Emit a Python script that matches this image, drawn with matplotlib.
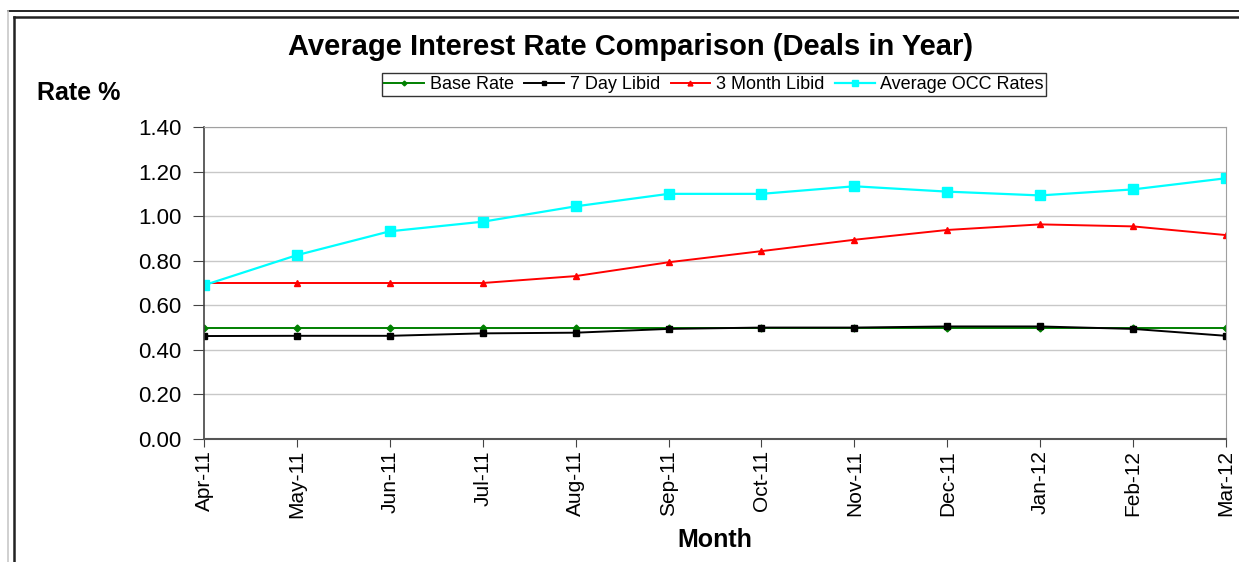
import matplotlib
matplotlib.use("Agg")
import matplotlib.pyplot as plt
from matplotlib.lines import Line2D

plt.rcParams["font.family"] = ["Liberation Sans", "DejaVu Sans"]

months = ["Apr-11", "May-11", "Jun-11", "Jul-11", "Aug-11", "Sep-11",
          "Oct-11", "Nov-11", "Dec-11", "Jan-12", "Feb-12", "Mar-12"]
base_rate = [0.50, 0.50, 0.50, 0.50, 0.50, 0.50, 0.50, 0.50, 0.50, 0.50, 0.50, 0.50]
libid_7day = [0.462, 0.463, 0.463, 0.474, 0.477, 0.494, 0.500, 0.500, 0.505, 0.505, 0.494, 0.463]
libid_3month = [0.70, 0.70, 0.70, 0.70, 0.731, 0.793, 0.843, 0.894, 0.938, 0.963, 0.954, 0.915]
occ_rates = [0.69, 0.825, 0.932, 0.975, 1.044, 1.10, 1.10, 1.134, 1.11, 1.093, 1.12, 1.17]
y_ticks = [0.0, 0.2, 0.4, 0.6, 0.8, 1.0, 1.2, 1.4]

W, H = 1239, 562
fig = plt.figure(figsize=(W / 100, H / 100), dpi=100)
ax = fig.add_axes([204 / W, 1 - 439 / H, (1226 - 204) / W, (439 - 127) / H])

x = list(range(len(months)))
ax.plot(x, base_rate, color="#008000", marker="D", markersize=3.5, lw=1.4,
        label="Base Rate")
ax.plot(x, libid_7day, color="black", marker="s", markersize=4.5, lw=1.4,
        label="7 Day Libid")
ax.plot(x, libid_3month, color="red", marker="^", markersize=5, lw=1.4,
        label="3 Month Libid")
ax.plot(x, occ_rates, color="#00FFFF", marker="s", markersize=7, lw=1.6,
        label="Average OCC Rates")

ax.set_xlim(0, len(months) - 1)
ax.set_ylim(0, 1.4)
ax.set_yticks(y_ticks)
ax.set_yticklabels([f"{v:.2f}" for v in y_ticks], fontsize=16)
ax.set_xticks(x)
ax.set_xticklabels(months, rotation=90, fontsize=15)
ax.tick_params(axis="y", direction="out", length=8, color="#444444", pad=8)
ax.tick_params(axis="x", direction="out", length=6, color="#444444", pad=2)
ax.grid(axis="y", color="#c8c8c8", lw=1)
ax.set_axisbelow(True)
for side in ["top", "right"]:
    ax.spines[side].set_color("#a0a0a0")
ax.spines["left"].set_color("#444444")
ax.spines["bottom"].set_color("#555555")
ax.spines["left"].set_linewidth(1.2)
ax.spines["bottom"].set_linewidth(1.5)

fig.text(631 / W, 1 - 47 / H, "Average Interest Rate Comparison (Deals in Year)",
         ha="center", va="center", fontsize=21, fontweight="bold")
fig.text(37 / W, 1 - 93 / H, "Rate %", ha="left", va="center",
         fontsize=18, fontweight="bold")
fig.text(715 / W, 1 - 540 / H, "Month", ha="center", va="center",
         fontsize=18, fontweight="bold")

leg = fig.legend(loc="center", bbox_to_anchor=(714 / W, 1 - 84.5 / H), ncol=4,
                 fontsize=13, frameon=True, fancybox=False, edgecolor="black",
                 borderpad=0.15, handlelength=2.2, handletextpad=0.3,
                 columnspacing=0.6, markerscale=0.7)
leg.get_frame().set_linewidth(1)

fig.add_artist(Line2D([8 / W, 1], [1 - 11 / H, 1 - 11 / H], color="black", lw=1.2))
fig.add_artist(Line2D([8 / W, 8 / W], [0, 1 - 11 / H], color="#c8c8c8", lw=1.2))
fig.add_artist(Line2D([14 / W, 1], [1 - 16.5 / H, 1 - 16.5 / H], color="#222222", lw=1.8))
fig.add_artist(Line2D([14 / W, 14 / W], [0, 1 - 16.5 / H], color="#222222", lw=1.8))

fig.savefig("out.png", dpi=100)
